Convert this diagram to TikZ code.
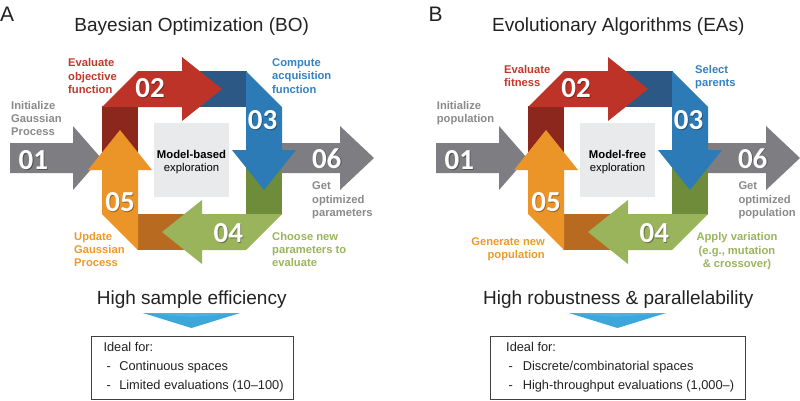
\documentclass[tikz,border=0pt]{standalone}
\usepackage{fontspec}
\setmainfont{Liberation Sans}
\newfontfamily\numfont{Carlito}
\definecolor{redB}{HTML}{BD3327}
\definecolor{redD}{HTML}{8B271D}
\definecolor{blueB}{HTML}{2D7BB6}
\definecolor{blueD}{HTML}{2B5885}
\definecolor{greenB}{HTML}{99B45A}
\definecolor{greenD}{HTML}{6F8C3A}
\definecolor{orangeB}{HTML}{EB9529}
\definecolor{orangeD}{HTML}{B86B20}
\definecolor{grayA}{HTML}{7E7D81}
\definecolor{boxgray}{HTML}{E9EAEC}
\definecolor{triB}{HTML}{3EA6D9}
\definecolor{triL}{HTML}{4FAFDF}
\definecolor{redT}{HTML}{C0392B}
\definecolor{blueT}{HTML}{3581C2}
\definecolor{greenT}{HTML}{9AB55B}
\definecolor{orangeT}{HTML}{EC9A2A}
\definecolor{grayT}{HTML}{8A8A8A}
\definecolor{txt}{HTML}{222222}
\tikzset{
  lbl/.style={font=\fontsize{11.2}{13.3}\selectfont\bfseries, inner sep=0, align=left, anchor=north west},
  num/.style={font=\numfont\fontsize{29}{29}\selectfont\bfseries, text=white, inner sep=0},
  numsh/.style={font=\numfont\fontsize{29}{29}\selectfont\bfseries, text=black, opacity=0.35, inner sep=0},
  ttl/.style={font=\fontsize{19}{19}\selectfont, text=txt, inner sep=0, anchor=base},
  letter/.style={font=\fontsize{21}{21}\selectfont, text=txt, inner sep=0, anchor=base west},
  boxt/.style={font=\fontsize{12.8}{14}\selectfont, text=txt, inner sep=0, anchor=base west},
  core/.style={font=\fontsize{11.3}{13.3}\selectfont, text=black, inner sep=0, align=center},
  idealbox/.style={draw=black!75, line width=0.8pt, fill=white},
}
\newcommand{\mkcycle}[1]{%
  % grey in/out arrows
  \fill[grayA] (10,143) -- (73,143) -- (73,126) -- (101,158) -- (73,190) -- (73,173) -- (10,173) -- cycle;
  \fill[grayA] (270,143) -- (340,143) -- (340,126) -- (374,158) -- (340,190) -- (340,173) -- (270,173) -- cycle;
  % dark tails
  \fill[redD] (102,106) rectangle (138,172);
  \fill[blueD] (180,71) rectangle (247,107);
  \fill[greenD] (246,148) rectangle (282,215);
  \fill[orangeD] (137,214) rectangle (204,250);
  % bright bent arrows
  \fill[redB] (102,107) -- (138,71) -- (182,71) -- (182,57) -- (222,89) -- (182,121) -- (182,107) -- cycle;
  \fill[blueB] (246,71) -- (282,107) -- (282,150) -- (296,150) -- (264,190) -- (232,150) -- (246,150) -- cycle;
  \fill[greenB] (282,214) -- (246,250) -- (202,250) -- (202,264) -- (162,232) -- (202,200) -- (202,214) -- cycle;
  \fill[orangeB] (138,250) -- (102,214) -- (102,170) -- (88,170) -- (120,130) -- (152,170) -- (138,170) -- cycle;
  % centre box
  \fill[boxgray] (154,123) rectangle (229,197);
  % numbers
  \node[numsh] (#1-s01) at (34.2,160.9) {01};
  \node[num] (#1-n01) at (33.3,160) {01};
  \node[numsh] (#1-s02) at (150.9,89.4) {02};
  \node[num] (#1-n02) at (150,88.5) {02};
  \node[numsh] (#1-s03) at (263.4,120.9) {03};
  \node[num] (#1-n03) at (262.5,120) {03};
  \node[numsh] (#1-s04) at (229.2,233.9) {04};
  \node[num] (#1-n04) at (228.3,233) {04};
  \node[numsh] (#1-s05) at (120.9,203.4) {05};
  \node[num] (#1-n05) at (120,202.5) {05};
  \node[numsh] (#1-s06) at (327.6,159.2) {06};
  \node[num] (#1-n06) at (326.7,158.3) {06};
  % result triangle
  \fill[triB] (143,313) -- (240,313) -- (191.5,328) -- cycle;
  \fill[triL] (143,313) -- (240,313) -- (191.5,317) -- cycle;
}
\begin{document}
\begin{tikzpicture}[x=1pt,y=-1pt]
\useasboundingbox (0,0) rectangle (800,400);
\fill[white] (0,0) rectangle (800,400);

% ---------------- Panel A ----------------
\mkcycle{a}
\node[letter] (a-letter) at (0,21.7) {A};
\node[ttl] (a-title) at (191.7,31.7) {Bayesian Optimization (BO)};
\node[core] (a-core) at (191.5,162) {\textbf{Model-based}\\exploration};
\node[lbl, text=redT] (a-l2) at (68,58.5) {Evaluate\\objective\\function};
\node[lbl, text=blueT] (a-l3) at (272,58.5) {Compute\\acquisition\\function};
\node[lbl, text=grayT] (a-l1) at (11,100.8) {Initialize\\Gaussian\\Process};
\node[lbl, text=grayT] (a-l6) at (312,181.8) {Get\\optimized\\parameters};
\node[lbl, text=orangeT] (a-l5) at (74,231.8) {Update\\Gaussian\\Process};
\node[lbl, text=greenT] (a-l4) at (272,231.8) {Choose new\\parameters to\\evaluate};
\node[ttl] (a-sum) at (191.7,304) {High sample efficiency};
\draw[idealbox] (91,336) rectangle (293,399.3);
\node[boxt] (a-i0) at (103.3,351.7) {Ideal for:};
\node[boxt] (a-i1) at (106.3,370.7) {-\hspace{8.5pt}Continuous spaces};
\node[boxt] (a-i2) at (106.3,389.7) {-\hspace{8.5pt}Limited evaluations (10–100)};

% ---------------- Panel B ----------------
\begin{scope}[xshift=426pt]
\mkcycle{b}
\node[core] (b-core) at (191.5,162) {\textbf{Model-free}\\exploration};
\end{scope}
\node[letter] (b-letter) at (428.3,21.7) {B};
\node[ttl] (b-title) at (618.3,31.7) {Evolutionary Algorithms (EAs)};
\node[lbl, text=redT] (b-l2) at (504,65.2) {Evaluate\\fitness};
\node[lbl, text=blueT] (b-l3) at (695,65.2) {Select\\parents};
\node[lbl, text=grayT] (b-l1) at (436.7,100.8) {Initialize\\population};
\node[lbl, text=grayT] (b-l6) at (738.3,181.8) {Get\\optimized\\population};
\node[lbl, text=orangeT, align=right, anchor=north east] (b-l5) at (545,237.5) {Generate new\\population};
\node[lbl, text=greenT, align=center, anchor=north] (b-l4) at (737,232.5) {Apply variation\\(e.g., mutation\\\& crossover)};
\node[ttl] (b-sum) at (618.3,304) {High robustness \& parallelability};
\draw[idealbox] (490.7,336) rectangle (745,399.3);
\node[boxt] (b-i0) at (506,351.7) {Ideal for:};
\node[boxt] (b-i1) at (508.3,370.7) {-\hspace{10pt}Discrete/combinatorial spaces};
\node[boxt] (b-i2) at (508.3,389.7) {-\hspace{10pt}High-throughput evaluations (1,000–)};
\end{tikzpicture}
\end{document}
